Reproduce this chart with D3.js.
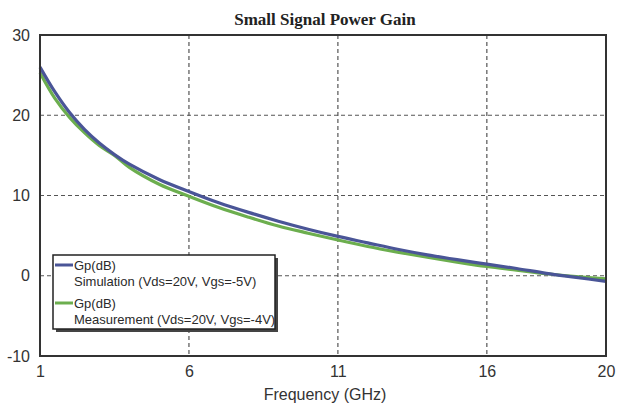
<!DOCTYPE html>
<html>
<head>
<meta charset="utf-8">
<script src="https://cdn.jsdelivr.net/npm/d3@7"></script>
<style>
  html, body { margin: 0; padding: 0; background: #fff; }
  svg { display: block; }
</style>
</head>
<body>
<svg id="chart" width="617" height="406"></svg>
<script>
// Frequency sweep (GHz) and small-signal power gain Gp (dB)
const freqGHz = [1, 1.5, 2, 2.5, 3, 3.5, 4, 5, 6, 7, 8, 9, 10, 11, 12, 13, 14, 15, 16, 17, 18, 19, 20];
const simulationGp = [26.0, 22.9, 20.3, 18.2, 16.5, 15.1, 13.9, 12.0, 10.5, 9.1, 7.9, 6.8, 5.8, 4.9, 4.1, 3.3, 2.6, 2.0, 1.45, 0.9, 0.3, -0.2, -0.7];
const measurementGp = [25.3, 22.1, 19.7, 17.8, 16.2, 15.0, 13.5, 11.4, 9.9, 8.5, 7.3, 6.2, 5.3, 4.45, 3.65, 2.95, 2.3, 1.7, 1.15, 0.7, 0.25, -0.1, -0.4];

const xTicks = [1, 6, 11, 16, 20];
const yTicks = [-10, 0, 10, 20, 30];
const xGrid = [6, 11, 16];
const yGrid = [0, 10, 20];

const seriesNames = ["Simulation (Vds=20V, Vgs=-5V)", "Measurement (Vds=20V, Vgs=-4V)"];
const seriesColors = ["#4a5597", "#6cae4e"];

const svg = d3.select("#chart");
const margin = { left: 40, right: 11, top: 35, bottom: 50 };
const W = 617, H = 406;

const x = d3.scaleLinear().domain([1, 20]).range([margin.left, W - margin.right]);
const y = d3.scaleLinear().domain([-10, 30]).range([H - margin.bottom, margin.top]);

// Plain hyphen for negative tick values
const fmt = d => String(d);

// Title
svg.append("text")
  .attr("x", 325).attr("y", 25)
  .attr("text-anchor", "middle")
  .attr("font-family", "'Liberation Serif', 'Times New Roman', serif")
  .attr("font-weight", "bold")
  .attr("font-size", 17)
  .attr("fill", "#222")
  .text("Small Signal Power Gain");

// Dashed grid
const grid = svg.append("g").attr("stroke", "#555").attr("stroke-width", 1.2).attr("stroke-dasharray", "4,3");
grid.selectAll("line.v").data(xGrid).join("line")
  .attr("x1", d => x(d)).attr("x2", d => x(d))
  .attr("y1", y(30)).attr("y2", y(-10));
grid.selectAll("line.h").data(yGrid).join("line")
  .attr("x1", x(1)).attr("x2", x(20))
  .attr("y1", d => y(d)).attr("y2", d => y(d));

// Axes (labels only; the frame is drawn separately)
const xAxis = d3.axisBottom(x).tickValues(xTicks).tickSize(0).tickPadding(10).tickFormat(fmt);
const yAxis = d3.axisLeft(y).tickValues(yTicks).tickSize(0).tickPadding(10).tickFormat(fmt);
const gx = svg.append("g").attr("transform", `translate(0,${y(-10)})`).call(xAxis);
const gy = svg.append("g").attr("transform", `translate(${x(1)},0)`).call(yAxis);
[gx, gy].forEach(g => {
  g.select(".domain").remove();
  g.selectAll("text")
    .attr("font-family", "'Liberation Sans', Arial, sans-serif")
    .attr("font-size", 16)
    .attr("fill", "#333");
});

// X axis title
svg.append("text")
  .attr("x", 325).attr("y", 400)
  .attr("text-anchor", "middle")
  .attr("font-family", "'Liberation Sans', Arial, sans-serif")
  .attr("font-size", 16)
  .attr("fill", "#333")
  .text("Frequency (GHz)");

// Curves
const line = d3.line().x(d => x(d[0])).y(d => y(d[1])).curve(d3.curveCatmullRom.alpha(0.5));
const simPts = freqGHz.map((f, i) => [f, simulationGp[i]]);
const measPts = freqGHz.map((f, i) => [f, measurementGp[i]]);

svg.append("path").datum(measPts)
  .attr("d", line).attr("fill", "none")
  .attr("stroke", seriesColors[1]).attr("stroke-width", 3.2);
svg.append("path").datum(simPts)
  .attr("d", line).attr("fill", "none")
  .attr("stroke", seriesColors[0]).attr("stroke-width", 3.2);

// Plot frame
svg.append("rect")
  .attr("x", x(1)).attr("y", y(30))
  .attr("width", x(20) - x(1)).attr("height", y(-10) - y(30))
  .attr("fill", "none").attr("stroke", "#333").attr("stroke-width", 2);

// Legend box with drop shadow
const lg = svg.append("g");
const lx = 53, ly = 255, lw = 222, lh = 74;
lg.append("rect").attr("x", lx + 3).attr("y", ly + 3).attr("width", lw).attr("height", lh).attr("fill", "#444");
lg.append("rect").attr("x", lx).attr("y", ly).attr("width", lw).attr("height", lh)
  .attr("fill", "#fff").attr("stroke", "#222").attr("stroke-width", 1.5);

const rows = [0, 1].map(i => ({ name: seriesNames[i], color: seriesColors[i], y: ly + 10 + i * 38 }));
rows.forEach(r => {
  lg.append("line").attr("x1", lx + 2).attr("x2", lx + 20)
    .attr("y1", r.y).attr("y2", r.y)
    .attr("stroke", r.color).attr("stroke-width", 3);
  lg.append("text").attr("x", lx + 21).attr("y", r.y + 4.5)
    .attr("font-family", "'Liberation Sans', Arial, sans-serif").attr("font-size", 13).attr("fill", "#2a2a2a")
    .text("Gp(dB)");
  lg.append("text").attr("x", lx + 21).attr("y", r.y + 21)
    .attr("font-family", "'Liberation Sans', Arial, sans-serif").attr("font-size", 13).attr("fill", "#2a2a2a")
    .text(r.name);
});
</script>
</body>
</html>
